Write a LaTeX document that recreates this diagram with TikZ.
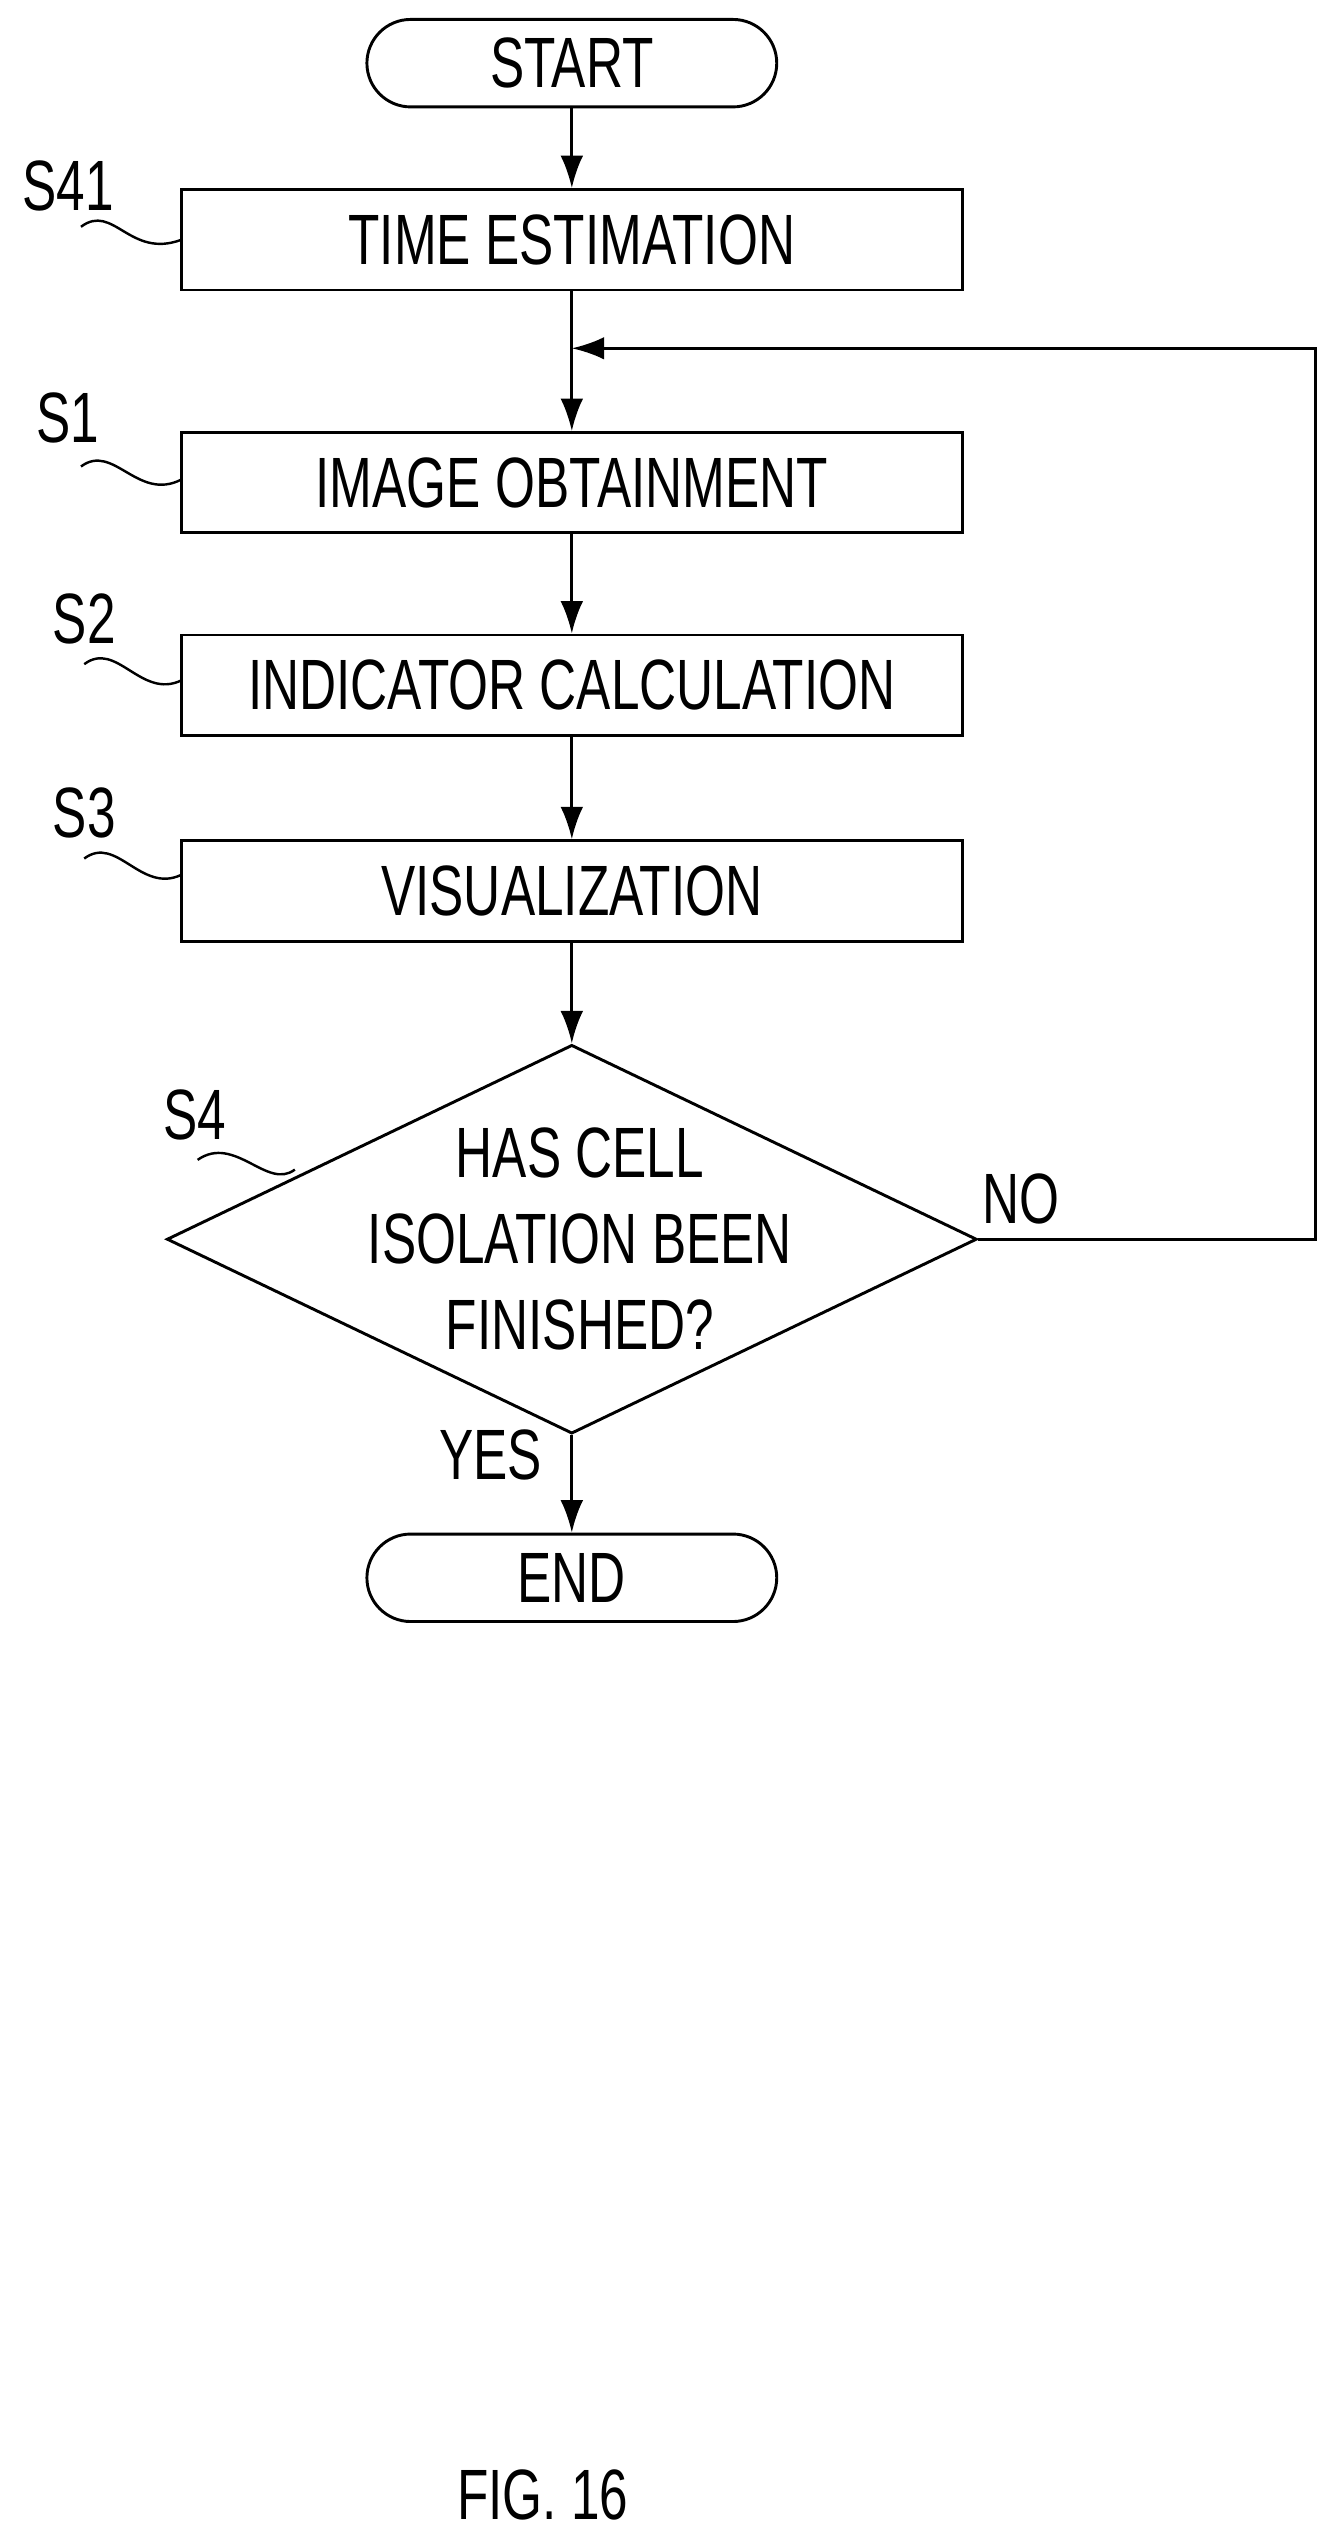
\documentclass[tikz,border=0pt]{standalone}
\usepackage{fontspec}
\setmainfont[FakeStretch=0.72]{Liberation Sans}
\usetikzlibrary{shapes.geometric,arrows.meta}
\begin{document}
\begin{tikzpicture}[x=1pt,y=-1pt,
  every node/.style={font=\fontsize{44}{50}\selectfont},
  box/.style={draw,line width=1.8pt,minimum width=482pt,minimum height=62pt,inner sep=0pt},
  term/.style={draw,line width=1.8pt,rounded corners=27pt,minimum width=253pt,minimum height=54pt,inner sep=0pt},
  arr/.style={line width=1.8pt,-{Latex[length=20pt,width=14pt]}},
  ln/.style={line width=1.8pt},
  wave/.style={line width=1.5pt}]
\useasboundingbox (0,0) rectangle (827,1568);
\node[term] (start) at (353,39) {START};
\node[box] (s41) at (353,148) {TIME ESTIMATION};
\node[box] (s1) at (353,298) {IMAGE OBTAINMENT};
\node[box] (s2) at (353,423) {INDICATOR CALCULATION};
\node[box] (s3) at (353,550) {VISUALIZATION};
\node[draw,line width=1.8pt,diamond,minimum width=500pt,minimum height=240pt,aspect=2.08,inner sep=0pt] (s4) at (353,765) {};
\node[align=center,font=\fontsize{44}{53}\selectfont] (s4t) at (358,765) {HAS CELL\\ISOLATION BEEN\\FINISHED?};
\node[term] (end) at (353,974) {END};
\coordinate (j) at (353,215);
\coordinate (r1) at (812,765);
\coordinate (r2) at (812,215);
\draw[arr] (start) -- (s41);
\draw[ln] (s41) -- (j);
\draw[arr] (j) -- (s1);
\draw[arr] (s1) -- (s2);
\draw[arr] (s2) -- (s3);
\draw[arr] (s3) -- (s4.north);
\draw[arr] (s4.south) -- (end);
\draw[arr] (s4.east) -- (r1) -- (r2) -- (j);
\node (no) at (630,740) {NO};
\node (yes) at (303,898) {YES};
\node (l41) at (42,115) {S41};
\node (l1) at (42,258) {S1};
\node (l2) at (52,382) {S2};
\node (l3) at (52,502) {S3};
\node (l4) at (120,688) {S4};
\draw[wave] (50,140) .. controls (70,125) and (80,160) .. (112,148);
\draw[wave] (50,288) .. controls (70,273) and (85,310) .. (112,296);
\draw[wave] (52,410) .. controls (72,395) and (87,432) .. (112,420);
\draw[wave] (52,530) .. controls (72,515) and (87,552) .. (112,540);
\draw[wave] (122,716) .. controls (145,700) and (165,735) .. (182,722);
\node (fig) at (335,1540) {FIG. 16};
\end{tikzpicture}
\end{document}
